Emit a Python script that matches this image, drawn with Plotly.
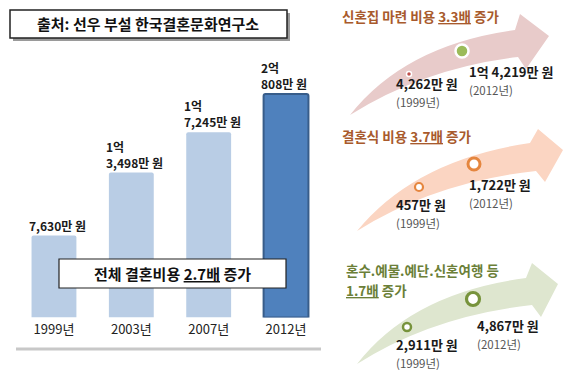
import plotly.graph_objects as go

# ---------------- data ----------------
years = ["1999년", "2003년", "2007년", "2012년"]
total_cost = [7630, 13498, 17245, 20808]          # 만 원
bar_colors = ["#B9CDE5", "#B9CDE5", "#B9CDE5", "#4F81BD"]

point_years = [1999, 2012]
house_cost = [4262, 14219]        # 신혼집 마련 비용
wedding_cost = [457, 1722]        # 결혼식 비용
goods_cost = [2911, 4867]         # 혼수.예물.예단.신혼여행 등

main_title = "출처: 선우 부설 한국결혼문화연구소"
total_note = "전체 결혼비용 <u>2.7배</u> 증가"
panel_titles = [
    ["신혼집 마련 비용 <u>3.3배</u> 증가"],
    ["결혼식 비용 <u>3.7배</u> 증가"],
    ["혼수.예물.예단.신혼여행 등", "<u>1.7배</u> 증가"],
]

# ---------------- helpers ----------------
W, H = 572, 382
FONT = "Noto Sans CJK KR"


def px(x):
    return x / W


def py(y):
    return 1 - y / H


def money_lines(v):
    if v >= 10000:
        return [f"{v // 10000}억", f"{v % 10000:,}만 원"]
    return [f"{v:,}만 원"]


fig = go.Figure()

# ---------------- bar chart ----------------
fig.add_trace(go.Bar(
    x=years, y=total_cost,
    marker=dict(color=bar_colors,
                line=dict(color=["#B9CDE5", "#B9CDE5", "#B9CDE5", "#385D8A"], width=[0, 0, 0, 2]),
                cornerradius=2),
    xaxis="x", yaxis="y", hoverinfo="skip",
))

annotations = []
for yr, v in zip(years, total_cost):
    lines = money_lines(v)
    for n, line in enumerate(reversed(lines)):
        annotations.append(dict(
            x=yr, y=v, xref="x", yref="y", text=f"<b>{line}</b>",
            xanchor="left", yanchor="bottom", xshift=-26, yshift=1 + 16 * n, align="left",
            showarrow=False, borderpad=0, font=dict(family=FONT, size=12, color="#1a1a1a"),
        ))

# ---------------- right panels: points ----------------
panels = [
    dict(vals=house_cost, p99=(409, 74), p12=(462, 51),
         m99=dict(size=5, color="#C0504D", line=dict(color="white", width=1.5)),
         m12=dict(size=13, color="#9BBB59", line=dict(color="white", width=2.5)),
         title_xy=(341, 16), title_color="#A85A2C",
         lab99=(395, 83), lab12=(468, 71),
         arrow=[(350, 115), (405, 45), (515, 30), (520, 14), (549, 36), (526, 69), (518, 57), (425, 68)],
         arrow_color="#E8CBCA"),
    dict(vals=wedding_cost, p99=(419, 187), p12=(474, 164),
         m99=dict(size=8, color="white", line=dict(color="#E5863F", width=2.2)),
         m12=dict(size=12, color="white", line=dict(color="#E5863F", width=3)),
         title_xy=(341, 136), title_color="#A85A2C",
         lab99=(395, 204), lab12=(468, 184),
         arrow=[(357, 231), (415, 160), (530, 143), (538, 129), (563, 150), (545, 182), (536, 171), (435, 182)],
         arrow_color="#FBD5C2"),
    dict(vals=goods_cost, p99=(407, 327), p12=(473, 299),
         m99=dict(size=8, color="white", line=dict(color="#77933C", width=2.5)),
         m12=dict(size=13, color="white", line=dict(color="#77933C", width=3.2)),
         title_xy=(345, 270), title_color="#6B7F38",
         lab99=(395, 344), lab12=(476, 325),
         arrow=[(357, 364), (412, 293), (526, 278), (532, 263), (558, 284), (541, 317), (532, 305), (432, 316)],
         arrow_color="#DEE6CF"),
]

shapes = []
layout_axes = {}
for i, p in enumerate(panels):
    k = i + 2
    xa, ya = f"xaxis{k}", f"yaxis{k}"
    layout_axes[xa] = dict(domain=[px(p["p99"][0]), px(p["p12"][0])], range=[point_years[0], point_years[1]],
                           visible=False, anchor=f"y{k}", fixedrange=True)
    layout_axes[ya] = dict(domain=[py(p["p99"][1]), py(p["p12"][1])], range=[p["vals"][0], p["vals"][1]],
                           visible=False, anchor=f"x{k}", fixedrange=True)
    for j in range(2):
        m = p["m99"] if j == 0 else p["m12"]
        fig.add_trace(go.Scatter(
            x=[point_years[j]], y=[p["vals"][j]], mode="markers", marker=m,
            xaxis=f"x{k}", yaxis=f"y{k}", cliponaxis=False, hoverinfo="skip",
        ))
    # arrow shape
    T, CU, U, HU, TIP, HL, L, CL = p["arrow"]

    def P(pt):
        return f"{px(pt[0]):.5f},{py(pt[1]):.5f}"
    d = (f"M {P(T)} Q {P(CU)} {P(U)} L {P(HU)} L {P(TIP)} L {P(HL)} L {P(L)} "
         f"Q {P(CL)} {P(T)} Z")
    shapes.append(dict(type="path", path=d, xref="paper", yref="paper",
                       fillcolor=p["arrow_color"], line=dict(width=0), layer="below"))
    # title lines
    for n, line in enumerate(panel_titles[i]):
        annotations.append(dict(
            x=px(p["title_xy"][0]), y=py(p["title_xy"][1] + 19.5 * n), xref="paper", yref="paper",
            text=f"<b>{line}</b>", xanchor="left", yanchor="middle", align="left",
            showarrow=False, borderpad=0, font=dict(family=FONT, size=13.5, color=p["title_color"]),
        ))
    # value labels
    for j, key in enumerate(["lab99", "lab12"]):
        lx, ly = p[key]
        annotations.append(dict(
            x=px(lx), y=py(ly), xref="paper", yref="paper",
            text=f"<b>{' '.join(money_lines(p['vals'][j]))}</b>", xanchor="left", yanchor="middle",
            showarrow=False, borderpad=0, font=dict(family=FONT, size=13, color="#1a1a1a"),
        ))
        annotations.append(dict(
            x=px(lx), y=py(ly + 19), xref="paper", yref="paper",
            text=f"({point_years[j]}년)", xanchor="left", yanchor="middle",
            showarrow=False, borderpad=0, font=dict(family=FONT, size=11.5, color="#555555"),
        ))

# ---------------- boxes / decorations ----------------
# title box with shadow
shapes.append(dict(type="rect", xref="paper", yref="paper", x0=px(13), x1=px(290), y0=py(41), y1=py(13),
                   fillcolor="#9a9a9a", line=dict(width=0)))
shapes.append(dict(type="rect", xref="paper", yref="paper", x0=px(10), x1=px(287), y0=py(38), y1=py(10),
                   fillcolor="white", line=dict(color="#222222", width=1.5)))
annotations.append(dict(x=px(148), y=py(24), xref="paper", yref="paper", text=main_title,
                        showarrow=False, xanchor="center", yanchor="middle",
                        font=dict(family=FONT, size=15, color="#111111", weight=600)))
# total note box
shapes.append(dict(type="rect", xref="paper", yref="paper", x0=px(59), x1=px(286), y0=py(288), y1=py(259),
                   fillcolor="white", line=dict(color="#222222", width=1.2)))
annotations.append(dict(x=px(172), y=py(273.5), xref="paper", yref="paper", text=f"<b>{total_note}</b>",
                        showarrow=False, xanchor="center", yanchor="middle",
                        font=dict(family=FONT, size=15, color="#111111")))
# baseline
shapes.append(dict(type="line", xref="paper", yref="paper", x0=px(16), x1=px(321), y0=py(349), y1=py(349),
                   line=dict(color="#C8C8C8", width=3)))

fig.update_layout(
    width=W, height=H, autosize=False,
    margin=dict(l=0, r=0, t=0, b=0),
    paper_bgcolor="white", plot_bgcolor="rgba(0,0,0,0)",
    showlegend=False, bargap=0.42,
    font=dict(family=FONT),
    xaxis=dict(domain=[px(15.3), px(324.7)], showgrid=False, zeroline=False, showline=False,
               ticks="", tickfont=dict(family=FONT, size=13, color="#222222"), fixedrange=True,
               anchor="y", ticklabelstandoff=2),
    yaxis=dict(domain=[py(317.5), py(59.7)], range=[0, 24000], visible=False, fixedrange=True, anchor="x"),
    shapes=shapes, annotations=annotations,
    **layout_axes,
)

fig.write_html("out.html", config={"displayModeBar": False},
               post_script="document.body.style.margin='0';document.body.style.overflow='hidden';")
